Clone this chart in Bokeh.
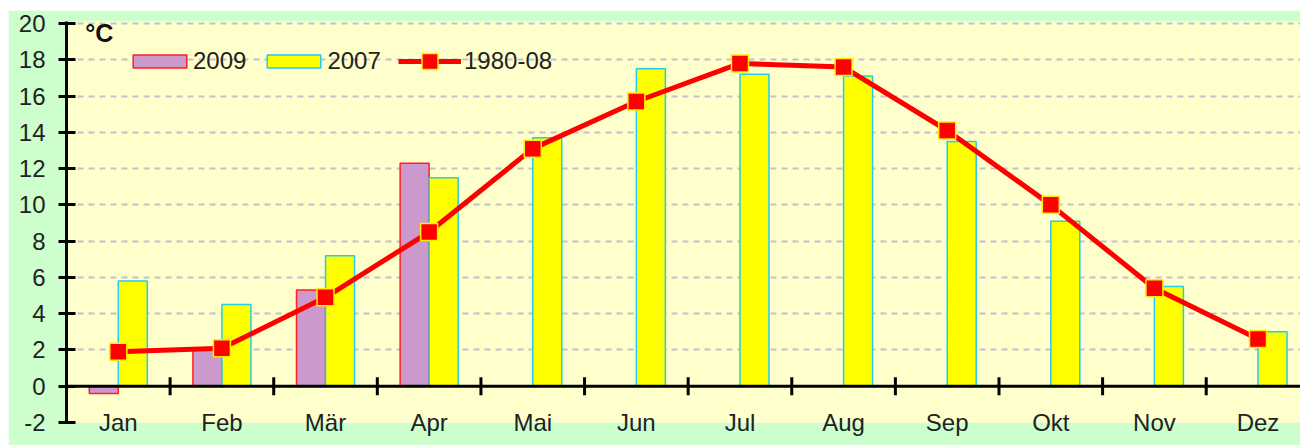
import math
from bokeh.plotting import figure
from bokeh.models import (Range1d, FixedTicker, ColumnDataSource,
                          Legend, LegendItem, Label, Span)
from bokeh.transform import dodge
from bokeh.embed import file_html
from bokeh.resources import INLINE

# ---- data ----
months = ["Jan", "Feb", "Mär", "Apr", "Mai", "Jun", "Jul", "Aug", "Sep", "Okt", "Nov", "Dez"]
t2009 = [-0.4, 2.0, 5.3, 12.3]
t2007 = [5.8, 4.5, 7.2, 11.5, 13.7, 17.5, 17.2, 17.1, 13.5, 9.1, 5.5, 3.0]
t1980_08 = [1.9, 2.1, 4.9, 8.5, 13.1, 15.7, 17.8, 17.6, 14.1, 10.0, 5.4, 2.6]
y_ticks = list(range(-2, 21, 2))
unit_label = "°C"

FONT = "Liberation Sans"
idx = list(range(len(months)))

src07 = ColumnDataSource(dict(x=idx, v=t2007))
src09 = ColumnDataSource(dict(x=idx[:len(t2009)], v=t2009))
srcL = ColumnDataSource(dict(x=idx, v=t1980_08))
srcT = ColumnDataSource(dict(x=[i + 0.5 for i in idx], y=[0] * len(idx)))

p = figure(width=1292, height=435, output_backend="svg", toolbar_location=None,
           x_range=Range1d(-0.5, 11.41), y_range=Range1d(-2, 20.11),
           min_border_left=58, min_border_right=0,
           min_border_top=11, min_border_bottom=23, margin=(10, 0, 0, 8))
p.background_fill_color = "#FFFFCC"
p.border_fill_color = "#CCFFCC"
p.outline_line_color = None

# y axis
ya = p.yaxis[0]
ya.ticker = FixedTicker(ticks=y_ticks)
ya.major_label_overrides = {t: str(t) for t in y_ticks}
ya.axis_line_width = 3
ya.axis_line_color = "black"
ya.major_tick_line_width = 3
ya.major_tick_in = 9
ya.major_tick_out = 8
ya.minor_tick_line_color = None
ya.major_label_standoff = 13
ya.major_label_text_font = FONT
ya.major_label_text_font_size = "24px"
ya.major_label_text_color = "#222222"

# x axis: month labels only (line and ticks drawn at y=0 below)
xa = p.xaxis[0]
xa.ticker = FixedTicker(ticks=idx)
xa.major_label_overrides = {i: m for i, m in zip(idx, months)}
xa.axis_line_color = None
xa.major_tick_line_color = None
xa.minor_tick_line_color = None
xa.major_tick_in = 0
xa.major_tick_out = 0
xa.major_label_standoff = -14
xa.major_label_text_font = FONT
xa.major_label_text_font_size = "24px"
xa.major_label_text_color = "#222222"

p.xgrid.visible = False
p.ygrid.ticker = FixedTicker(ticks=y_ticks)
p.ygrid.grid_line_color = "#C4C0CC"
p.ygrid.grid_line_dash = "6 5"
p.ygrid.grid_line_width = 2

# bars
w = 0.28
r09 = p.vbar(x=dodge("x", -w / 2), top="v", bottom=0, width=w, source=src09,
             fill_color="#CC99CC", line_color="#FF2020", line_width=1.5)
r07 = p.vbar(x=dodge("x", w / 2), top="v", bottom=0, width=w, source=src07,
             fill_color="#FFFF00", line_color="#22CCEE", line_width=1.5)

# zero line with month-boundary ticks
p.add_layout(Span(location=0, dimension="width", line_color="black", line_width=3))
p.scatter(x="x", y="y", source=srcT, marker="dash", angle=math.pi / 2, size=18,
          line_color="black", line_width=3)

# long-term mean line
rl = p.line(x="x", y="v", source=srcL, line_color="#FF0000", line_width=5)
rm = p.scatter(x="x", y="v", source=srcL, marker="square", size=17,
               fill_color="#FF0000", line_color="#FFEE00", line_width=1.5)

# unit label
p.add_layout(Label(x=-0.32, y=20.24, text=unit_label, text_font=FONT,
                   text_font_size="25px", text_font_style="bold",
                   text_baseline="top", text_align="left", text_color="#111111"))

common = dict(orientation="horizontal", background_fill_alpha=0,
              border_line_color=None, padding=0, margin=0,
              label_text_font=FONT, label_text_font_size="24px",
              label_text_color="#222222")

legend_bars = Legend(items=[LegendItem(label="2009", renderers=[r09]),
                            LegendItem(label="2007", renderers=[r07])],
                     location=(60, 347), spacing=14, label_standoff=0,
                     glyph_width=67, glyph_height=16, **common)
legend_line = Legend(items=[LegendItem(label="1980-08", renderers=[rl, rm])],
                     location=(332, 341), label_standoff=3,
                     glyph_width=63, glyph_height=40, **common)
p.add_layout(legend_bars, "center")
p.add_layout(legend_line, "center")

open("out.html", "w").write(file_html(p, INLINE))
